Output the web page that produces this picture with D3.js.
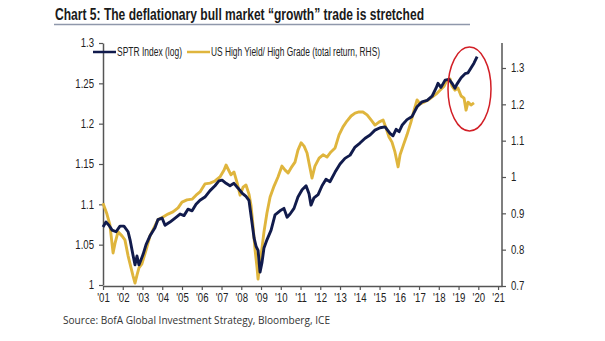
<!DOCTYPE html>
<html>
<head>
<meta charset="utf-8">
<script src="https://d3js.org/d3.v7.min.js"></script>
<style>
  body { margin: 0; background: #fff; }
  svg text { font-family: "Liberation Sans", Arial, sans-serif; }
</style>
</head>
<body>
<svg id="chart" width="605" height="341"></svg>
<script>
// decimal years and values
var sptrYears = [2001.00,2001.15,2001.30,2001.46,2001.66,2001.86,2002.06,2002.27,2002.37,2002.52,2002.62,2002.72,2002.82,2002.92,
  2003.03,2003.18,2003.38,2003.63,2003.78,2003.99,2004.14,2004.39,2004.65,2004.90,2005.10,2005.30,2005.51,2005.71,2005.91,
  2006.16,2006.42,2006.67,2006.87,2007.03,2007.23,2007.43,2007.63,2007.84,2008.04,2008.24,2008.39,2008.54,2008.65,2008.75,
  2008.85,2008.95,2009.05,2009.15,2009.30,2009.51,2009.71,2009.96,2010.16,2010.32,2010.47,2010.67,2010.87,2011.08,2011.28,
  2011.43,2011.53,2011.68,2011.89,2012.09,2012.29,2012.49,2012.75,2013.00,2013.25,2013.51,2013.76,2014.01,2014.27,2014.52,
  2014.77,2015.03,2015.28,2015.53,2015.68,2015.84,2015.99,2016.14,2016.39,2016.65,2016.90,2017.15,2017.41,2017.66,2017.86,
  2017.96,2018.11,2018.32,2018.52,2018.67,2018.82,2018.92,2019.13,2019.33,2019.48,2019.63,2019.78,2019.94];
var sptrValues = [1.072,1.078,1.074,1.068,1.066,1.073,1.073,1.066,1.056,1.037,1.025,1.036,1.025,1.031,
  1.038,1.050,1.061,1.071,1.081,1.083,1.074,1.078,1.083,1.088,1.086,1.094,1.092,1.100,1.105,
  1.109,1.117,1.123,1.129,1.130,1.126,1.123,1.126,1.120,1.114,1.110,1.105,1.078,1.058,1.048,
  1.043,1.016,1.028,1.046,1.056,1.068,1.087,1.092,1.095,1.084,1.088,1.095,1.109,1.118,1.123,
  1.113,1.099,1.108,1.112,1.123,1.131,1.128,1.140,1.150,1.157,1.161,1.171,1.176,1.182,1.186,
  1.192,1.195,1.196,1.188,1.185,1.193,1.190,1.198,1.205,1.209,1.221,1.227,1.229,1.234,1.244,
  1.250,1.245,1.254,1.255,1.250,1.244,1.249,1.257,1.262,1.263,1.269,1.275,1.283];

var hyYears = [2001.00,2001.20,2001.35,2001.51,2001.61,2001.76,2001.96,2002.11,2002.27,2002.42,2002.52,2002.62,2002.72,2002.82,
  2002.97,2003.18,2003.38,2003.58,2003.78,2004.04,2004.29,2004.54,2004.80,2005.00,2005.25,2005.51,2005.71,2005.91,2006.16,
  2006.42,2006.67,2006.92,2007.13,2007.23,2007.33,2007.48,2007.63,2007.78,2007.94,2008.09,2008.24,2008.39,2008.49,2008.59,
  2008.70,2008.80,2008.85,2008.95,2009.05,2009.15,2009.30,2009.46,2009.66,2009.86,2010.06,2010.22,2010.37,2010.52,2010.72,
  2010.87,2011.03,2011.18,2011.33,2011.48,2011.58,2011.73,2011.94,2012.14,2012.34,2012.54,2012.75,2012.95,2013.15,2013.35,
  2013.56,2013.76,2013.96,2014.16,2014.37,2014.57,2014.77,2014.97,2015.18,2015.33,2015.48,2015.63,2015.78,2015.94,2016.04,
  2016.19,2016.39,2016.59,2016.75,2016.90,2017.05,2017.25,2017.46,2017.66,2017.86,2018.06,2018.27,2018.42,2018.57,2018.67,
  2018.82,2018.97,2019.13,2019.28,2019.38,2019.48,2019.63,2019.78];
var hyValues = [0.928,0.898,0.868,0.791,0.818,0.849,0.838,0.827,0.783,0.750,0.728,0.708,0.730,0.750,
  0.761,0.799,0.838,0.860,0.882,0.890,0.898,0.904,0.915,0.931,0.937,0.939,0.950,0.959,0.981,
  0.983,0.989,1.000,1.019,1.033,1.022,1.006,1.014,0.986,0.950,0.972,0.978,0.953,0.923,0.868,
  0.799,0.750,0.719,0.766,0.805,0.849,0.901,0.945,0.975,1.000,1.030,1.019,1.011,1.025,1.041,
  1.074,1.094,1.085,1.066,1.025,0.997,1.030,1.052,1.061,1.055,1.069,1.080,1.116,1.138,1.154,
  1.168,1.176,1.179,1.179,1.171,1.157,1.143,1.151,1.157,1.135,1.110,1.096,1.069,1.028,1.061,
  1.085,1.116,1.151,1.184,1.212,1.201,1.206,1.212,1.220,1.228,1.239,1.250,1.267,1.270,1.250,
  1.239,1.245,1.223,1.217,1.184,1.206,1.198,1.204,1.195];

var leftTicks = [1, 1.05, 1.1, 1.15, 1.2, 1.25, 1.3];
var rightTicks = [0.7, 0.8, 0.9, 1, 1.1, 1.2, 1.3];
var yearTicks = d3.range(2001, 2022);

var svg = d3.select("#chart");

var x = d3.scaleLinear().domain([2001, 2021.2]).range([103, 502]);
var yL = d3.scaleLinear().domain([1, 1.3]).range([285, 43]);
var yR = d3.scaleLinear().domain([0.7, 1.3]).range([286, 68]);

var navy = "#111b4c", gold = "#dfb53d", axisCol = "#555";

// squeeze text horizontally, fonts here are wider than the narrow face of the original
function condense(sel, ratio) {
  sel.each(function () {
    var w = this.getComputedTextLength();
    d3.select(this).attr("textLength", w * ratio).attr("lengthAdjust", "spacingAndGlyphs");
  });
}

// title
svg.append("text").attr("x", 55).attr("y", 20)
  .style("font-size", "16px").style("font-weight", "bold").attr("fill", "#1a1a1a")
  .attr("textLength", 369).attr("lengthAdjust", "spacingAndGlyphs")
  .text("Chart 5: The deflationary bull market “growth” trade is stretched");
svg.append("line").attr("x1", 54).attr("x2", 470).attr("y1", 24.5).attr("y2", 24.5)
  .attr("stroke", "#8f98ab").attr("stroke-width", 1.5);

// axes
var gL = svg.append("g").attr("transform", "translate(103,0)")
  .call(d3.axisLeft(yL).tickValues(leftTicks).tickSize(4).tickSizeOuter(0).tickFormat(d3.format("")));
var gR = svg.append("g").attr("transform", "translate(502,0)")
  .call(d3.axisRight(yR).tickValues(rightTicks).tickSize(4).tickSizeOuter(0).tickFormat(d3.format("")));
gR.select(".domain").attr("d", "M0,43V286");
var gX = svg.append("g").attr("transform", "translate(0,286)")
  .call(d3.axisBottom(x).tickValues(yearTicks).tickSize(4).tickSizeOuter(0)
    .tickFormat(function (d) { return "'" + d3.format("02")(d % 100); }));

[gL, gR, gX].forEach(function (g) {
  g.selectAll(".domain").attr("stroke", axisCol).attr("stroke-width", 1.5);
  g.selectAll(".tick line").attr("stroke", axisCol).attr("stroke-width", 1.2);
  g.selectAll("text").attr("fill", "#222").style("font-size", "12px")
    .style("font-family", "'Liberation Sans', Arial, sans-serif");
  condense(g.selectAll("text"), 0.8);
});
gL.selectAll("text").attr("x", -9);
gR.selectAll("text").attr("x", 9);
gX.selectAll("text").attr("y", 7);

// lines
var lineL = d3.line().x(function (d) { return x(d[0]); }).y(function (d) { return yL(d[1]); });
var lineR = d3.line().x(function (d) { return x(d[0]); }).y(function (d) { return yR(d[1]); });

svg.append("path").datum(d3.zip(hyYears, hyValues)).attr("d", lineR)
  .attr("fill", "none").attr("stroke", gold).attr("stroke-width", 2.9).attr("stroke-linejoin", "round");
svg.append("path").datum(d3.zip(sptrYears, sptrValues)).attr("d", lineL)
  .attr("fill", "none").attr("stroke", navy).attr("stroke-width", 2.9).attr("stroke-linejoin", "round");

// legend
var legend = [{ label: "SPTR Index (log)", color: navy, x: 93, w: 65 },
  { label: "US High Yield/ High Grade (total return, RHS)", color: gold, x: 187, w: 169 }];
legend.forEach(function (l) {
  svg.append("line").attr("x1", l.x).attr("x2", l.x + 23).attr("y1", 52).attr("y2", 52)
    .attr("stroke", l.color).attr("stroke-width", 2.5);
  svg.append("text").attr("x", l.x + 24).attr("y", 56).style("font-size", "12px").attr("fill", "#222")
    .attr("textLength", l.w).attr("lengthAdjust", "spacingAndGlyphs")
    .text(l.label);
});

// red ellipse
svg.append("ellipse").attr("cx", 469.5).attr("cy", 89).attr("rx", 21.5).attr("ry", 42)
  .attr("fill", "none").attr("stroke", "#d21f26").attr("stroke-width", 1.5);

// source
svg.append("text").attr("x", 63).attr("y", 324).style("font-size", "11px").attr("fill", "#333")
  .style("font-family", "'Open Sans', sans-serif")
  .attr("textLength", 267).attr("lengthAdjust", "spacingAndGlyphs")
  .text("Source: BofA Global Investment Strategy, Bloomberg, ICE");
</script>
</body>
</html>
